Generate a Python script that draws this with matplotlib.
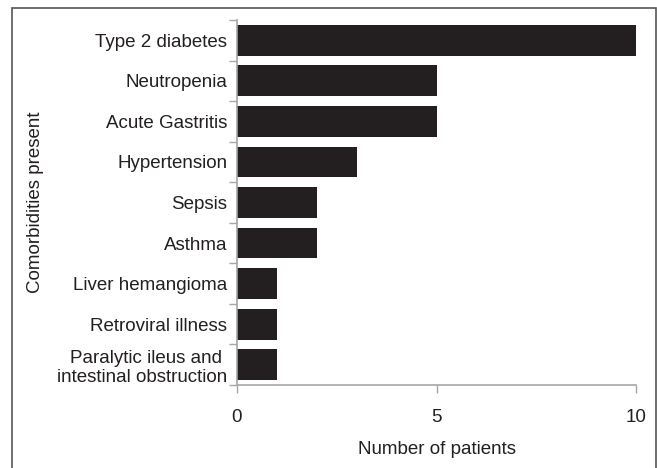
import matplotlib.pyplot as plt
import numpy as np
from matplotlib.patches import Rectangle

# Data
comorbidities = ["Type 2 diabetes", "Neutropenia", "Acute Gastritis", "Hypertension",
                 "Sepsis", "Asthma", "Liver hemangioma", "Retroviral illness",
                 "Paralytic ileus and \nintestinal obstruction"]
patients = [10, 5, 5, 3, 2, 2, 1, 1, 1]
x_ticks = [0, 5, 10]

plt.rcParams['font.family'] = ['Liberation Sans', 'DejaVu Sans']
text_color = "#231f20"
bar_color = "#231f20"
spine_color = "#a6a6a6"
fs = 13.5

fig = plt.figure(figsize=(6.57, 4.68), dpi=100)
ax = fig.add_axes([237 / 657, 1 - 385 / 468, (636 - 237) / 657, (385 - 20) / 468])

# outer frame around the whole figure
frame = Rectangle((12 / 657, -0.02), (656 - 12) / 657, 1 - 8 / 468 + 0.02,
                  transform=fig.transFigure, fill=False, edgecolor="#555555",
                  linewidth=1.2, clip_on=False)
fig.patches.append(frame)

ypos = np.arange(len(comorbidities))[::-1]
ax.barh(ypos, patients, height=0.76, color=bar_color)

ax.set_xlim(0, 10)
ax.set_ylim(-0.5, len(comorbidities) - 0.5)

# labels at bar centres, tick marks at the category boundaries
ax.set_yticks(ypos)
ax.set_yticklabels(comorbidities, fontsize=fs, color=text_color)
ax.set_yticks(np.arange(-0.5, len(comorbidities)), minor=True)
ax.tick_params(axis='y', which='major', length=0, pad=7)
ax.tick_params(axis='y', which='minor', length=6, color=spine_color, width=1)

ax.set_xticks(x_ticks)
ax.set_xticklabels([str(t) for t in x_ticks], fontsize=fs, color=text_color)
ax.tick_params(axis='x', length=6, color=spine_color, width=1, pad=11)

ax.set_xlabel("Number of patients", fontsize=fs, color=text_color, labelpad=11)
ax.set_ylabel("Comorbidities present", fontsize=fs, color=text_color)
ax.yaxis.set_label_coords(-(237 - 44) / (636 - 237), 0.5)

for side in ["top", "right"]:
    ax.spines[side].set_visible(False)
for side in ["left", "bottom"]:
    ax.spines[side].set_color(spine_color)
    ax.spines[side].set_linewidth(1.2)

fig.savefig("out.png", dpi=100)
